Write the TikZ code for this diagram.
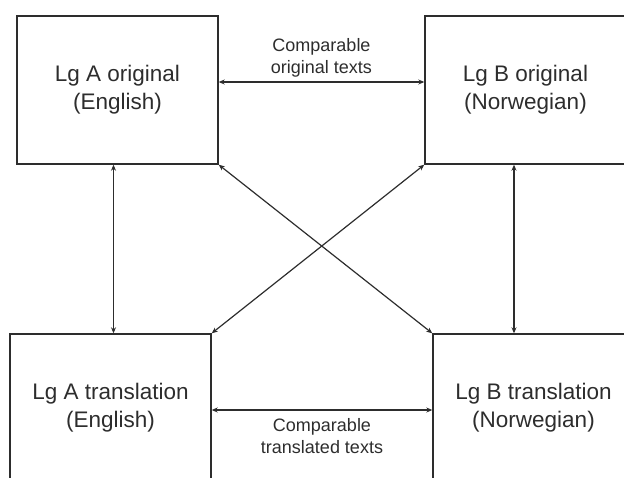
\documentclass[tikz,border=0pt]{standalone}
\usepackage{fontspec}
\setmainfont{Liberation Sans}
\usetikzlibrary{arrows.meta}
\definecolor{ink}{RGB}{45,45,45}
\tikzset{
  box/.style={draw=ink, line width=1.4pt, minimum width=201pt, minimum height=148pt, inner sep=0pt,
    align=center, text=ink, font=\fontsize{22.5}{28}\selectfont},
  lbl/.style={align=center, text=ink, inner sep=0pt, font=\fontsize{18}{22}\selectfont},
  conn/.style={draw=ink, line width=1.2pt, {Stealth[length=6pt,width=5pt]}-{Stealth[length=6pt,width=5pt]}}
}
\begin{document}
\begin{tikzpicture}[x=1pt,y=-1pt]
\useasboundingbox (0,0) rectangle (624,477);
\clip (0,0) rectangle (624,477);
\node[box] (ao) at (117.5,90) {Lg A original\\(English)};
\node[box] (bo) at (525.5,90) {Lg B original\\(Norwegian)};
\node[box] (at) at (110.5,408) {Lg A translation\\(English)};
\node[box] (bt) at (533.5,408) {Lg B translation\\(Norwegian)};
\node[lbl] (l1) at (321.5,58) {Comparable\\original texts};
\node[lbl] (l2) at (322,436.5) {Comparable\\translated texts};
\coordinate (h1) at (0,82);
\coordinate (h2) at (0,410);
\coordinate (v1) at (113.5,0);
\coordinate (v2) at (514,0);
\draw[conn] (ao.east |- h1) -- (bo.west |- h1);
\draw[conn] (at.east |- h2) -- (bt.west |- h2);
\draw[conn] (ao.south -| v1) -- (at.north -| v1);
\draw[conn] (bo.south -| v2) -- (bt.north -| v2);
\draw[conn] (ao.south east) -- (bt.north west);
\draw[conn] (bo.south west) -- (at.north east);
\end{tikzpicture}
\end{document}
